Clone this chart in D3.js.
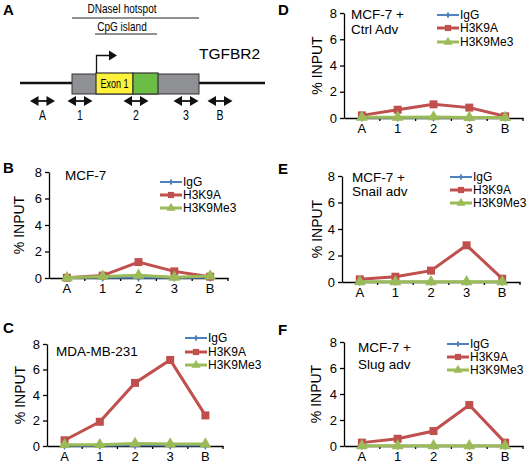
<!DOCTYPE html>
<html><head><meta charset="utf-8">
<script src="https://cdn.jsdelivr.net/npm/d3@7"></script>
<style>body{margin:0;background:#fff} svg{display:block}</style>
</head><body>
<script>
// ---------- data ----------
const categories = ["A", "1", "2", "3", "B"];
const yTicks = [0, 2, 4, 6, 8];
const seriesNames = ["IgG", "H3K9A", "H3K9Me3"];
const seriesColors = ["#4F81BD", "#C0504D", "#9BBB59"];

const igg_B     = [0.02, 0.02, 0.02, 0.02, 0.02];
const h3k9a_B   = [0.02, 0.18, 1.2, 0.5, 0.1];
const h3k9me3_B = [0.02, 0.12, 0.2, 0.05, 0.15];

const igg_C     = [0.02, 0.02, 0.05, 0.03, 0.03];
const h3k9a_C   = [0.45, 1.9, 4.95, 6.75, 2.4];
const h3k9me3_C = [0.1, 0.1, 0.2, 0.15, 0.15];

const igg_D     = [0.02, 0.02, 0.02, 0.02, 0.02];
const h3k9a_D   = [0.2, 0.63, 1.04, 0.79, 0.13];
const h3k9me3_D = [0.05, 0.05, 0.08, 0.03, 0.03];

const igg_E     = [0.01, 0.01, 0.01, 0.01, 0.01];
const h3k9a_E   = [0.2, 0.4, 0.86, 2.77, 0.25];
const h3k9me3_E = [0.02, 0.02, 0.02, 0.02, 0.02];

const igg_F     = [0.01, 0.01, 0.01, 0.01, 0.01];
const h3k9a_F   = [0.26, 0.56, 1.15, 3.15, 0.26];
const h3k9me3_F = [0.02, 0.02, 0.02, 0.02, 0.02];

// gene diagram (panel A)
const primerSites = ["A", "1", "2", "3", "B"];

// ---------- layout ----------
const panels = [
  {letter:"B", title:["MCF-7"], series:[igg_B,h3k9a_B,h3k9me3_B],
   x0:49, x1:228, yTop:172, yBot:278, lx:160, ly:[182,195,208], tx:65, ty:[176], yl:20, L:[3,173]},
  {letter:"C", title:["MDA-MB-231"], series:[igg_C,h3k9a_C,h3k9me3_C],
   x0:47, x1:223, yTop:344, yBot:446, lx:185, ly:[338,352,365], tx:56, ty:[352], yl:21, L:[3,333]},
  {letter:"D", title:["MCF-7 +","Ctrl Adv"], series:[igg_D,h3k9a_D,h3k9me3_D],
   x0:344, x1:523, yTop:13, yBot:118, lx:437, ly:[15,28,42], tx:351, ty:[15,30], yl:318, L:[278,15]},
  {letter:"E", title:["MCF-7 +","Snail adv"], series:[igg_E,h3k9a_E,h3k9me3_E],
   x0:342, x1:520, yTop:176, yBot:282, lx:450, ly:[177,190,203], tx:352, ty:[178,192], yl:318, L:[278,174]},
  {letter:"F", title:["MCF-7 +","Slug adv"], series:[igg_F,h3k9a_F,h3k9me3_F],
   x0:344, x1:523, yTop:342, yBot:446, lx:447, ly:[344,357,370], tx:358, ty:[348,365], yl:317, L:[278,335]}
];

const W = 529, H = 465;
const svg = d3.select("body").append("svg").attr("width", W).attr("height", H)
  .style("font-family", "'Liberation Sans', Arial, sans-serif");

const symbols = [d3.symbolDiamond, d3.symbolSquare, d3.symbolTriangle];
const symSizes = [22, 64, 60];
const lineWidths = [2, 3, 3];

function marker(g, i, x, y) {
  g.append("path").attr("d", d3.symbol().type(symbols[i]).size(symSizes[i])())
    .attr("transform", `translate(${x},${y})`).attr("fill", seriesColors[i]);
}

panels.forEach(p => {
  const g = svg.append("g");
  const x = d3.scaleBand().domain(categories).range([p.x0, p.x1]);
  const y = d3.scaleLinear().domain([0, 8]).range([p.yBot, p.yTop]);
  const cx = c => x(c) + x.bandwidth() / 2;

  // y axis
  const ya = g.append("g").attr("transform", `translate(${p.x0},0)`)
    .call(d3.axisLeft(y).tickValues(yTicks).tickSize(4).tickSizeOuter(0).tickPadding(3));
  ya.select(".domain").attr("stroke", "#000").attr("stroke-width", 1.3);
  ya.selectAll("line").attr("stroke", "#000").attr("stroke-width", 1.3);
  ya.selectAll("text").attr("font-size", 13).attr("font-family", "'Liberation Sans', Arial, sans-serif").attr("fill", "#000");

  // x axis
  const xa = g.append("g").attr("transform", `translate(0,${p.yBot})`)
    .call(d3.axisBottom(x).tickSize(0).tickPadding(6));
  xa.select(".domain").attr("stroke", "#000").attr("stroke-width", 1.3);
  xa.selectAll("text").attr("font-size", 13).attr("font-family", "'Liberation Sans', Arial, sans-serif").attr("fill", "#000");
  // boundary tick marks between categories
  const bounds = categories.slice(1).map(c => x(c)).concat([p.x1]);
  g.selectAll(".bt").data(bounds).join("line")
    .attr("x1", d => d).attr("x2", d => d).attr("y1", p.yBot).attr("y2", p.yBot + 3)
    .attr("stroke", "#000").attr("stroke-width", 1.3);

  // y label
  g.append("text").attr("transform", `translate(${p.yl},${(p.yTop + p.yBot) / 2}) rotate(-90)`)
    .attr("text-anchor", "middle").attr("dominant-baseline", "middle")
    .attr("font-size", 14).text("% INPUT");

  // series
  [0, 1, 2].forEach(i => {
    const vals = p.series[i];
    const line = d3.line().x((d, j) => cx(categories[j])).y(d => y(d));
    g.append("path").datum(vals).attr("d", line).attr("fill", "none")
      .attr("stroke", seriesColors[i]).attr("stroke-width", lineWidths[i]);
    vals.forEach((v, j) => marker(g, i, cx(categories[j]), y(v)));
  });

  // legend
  seriesNames.forEach((n, i) => {
    const ly = p.ly[i];
    g.append("line").attr("x1", p.lx).attr("x2", p.lx + 22).attr("y1", ly).attr("y2", ly)
      .attr("stroke", seriesColors[i]).attr("stroke-width", lineWidths[i]);
    g.append("path").attr("d", d3.symbol().type(symbols[i]).size(symSizes[i] * 0.6)())
      .attr("transform", `translate(${p.lx + 11},${ly})`).attr("fill", seriesColors[i]);
    g.append("text").attr("x", p.lx + 23).attr("y", ly + 4.3)
      .attr("font-size", 12).text(n);
  });

  // title
  p.title.forEach((t, k) => {
    g.append("text").attr("x", p.tx).attr("y", p.ty[k]).attr("dominant-baseline", "middle")
      .attr("font-size", 13.5).text(t);
  });

  // panel letter
  svg.append("text").attr("x", p.L[0]).attr("y", p.L[1]).attr("font-size", 15)
    .attr("font-weight", "bold").text(p.letter);
});

// ---------- panel A: gene diagram ----------
const A = svg.append("g");
// condensed text (narrow face emulated by horizontal scaling)
function narrowText(x, y, txt, size, sx) {
  A.append("g").attr("transform", `translate(${x},${y}) scale(${sx},1)`)
    .append("text").attr("x", 0).attr("y", 0).attr("text-anchor", "middle")
    .attr("font-size", size).text(txt);
}
svg.append("text").attr("x", 3).attr("y", 15).attr("font-size", 15).attr("font-weight", "bold").text("A");

narrowText(122, 13, "DNaseI hotspot", 13, 0.77);
A.append("line").attr("x1", 72).attr("x2", 199).attr("y1", 18).attr("y2", 18).attr("stroke", "#222").attr("stroke-width", 1);
narrowText(122, 31, "CpG island", 13, 0.77);
A.append("line").attr("x1", 95).attr("x2", 157).attr("y1", 34).attr("y2", 34).attr("stroke", "#222").attr("stroke-width", 1);

A.append("text").attr("x", 199).attr("y", 59).attr("font-size", 15.5).text("TGFBR2");

// baseline
A.append("line").attr("x1", 20).attr("x2", 265).attr("y1", 83).attr("y2", 83).attr("stroke", "#111").attr("stroke-width", 2.5);
// gray box
A.append("rect").attr("x", 72).attr("y", 74).attr("width", 127).attr("height", 20)
  .attr("fill", "#8E9093").attr("stroke", "#333").attr("stroke-width", 1);
// yellow exon
A.append("rect").attr("x", 96).attr("y", 73).attr("width", 37).attr("height", 21)
  .attr("fill", "#FFF23A").attr("stroke", "#333").attr("stroke-width", 1.2);
// green
A.append("rect").attr("x", 133).attr("y", 73).attr("width", 25).attr("height", 21)
  .attr("fill", "#6CBD45").attr("stroke", "#333").attr("stroke-width", 1.2);
narrowText(114.5, 88, "Exon 1", 12.5, 0.72);
// TSS arrow
A.append("path").attr("d", "M96.5,73 V55.5 H110").attr("fill", "none").attr("stroke", "#111").attr("stroke-width", 1.3);
A.append("path").attr("d", "M109,50.5 L117,55.5 L109,60.5 Z").attr("fill", "#111");

// primer double arrows
const primerPos = [42.5, 80, 136, 186, 220];
primerSites.forEach((s, i) => {
  const c = primerPos[i], yy = 101;
  A.append("line").attr("x1", c - 8).attr("x2", c + 8).attr("y1", yy).attr("y2", yy).attr("stroke", "#111").attr("stroke-width", 1.8);
  A.append("path").attr("d", `M${c - 12.5},${yy} L${c - 4},${yy - 5} L${c - 4},${yy + 5} Z`).attr("fill", "#111");
  A.append("path").attr("d", `M${c + 12.5},${yy} L${c + 4},${yy - 5} L${c + 4},${yy + 5} Z`).attr("fill", "#111");
  narrowText(c, 120, s, 14, 0.75);
});
</script>
</body></html>
